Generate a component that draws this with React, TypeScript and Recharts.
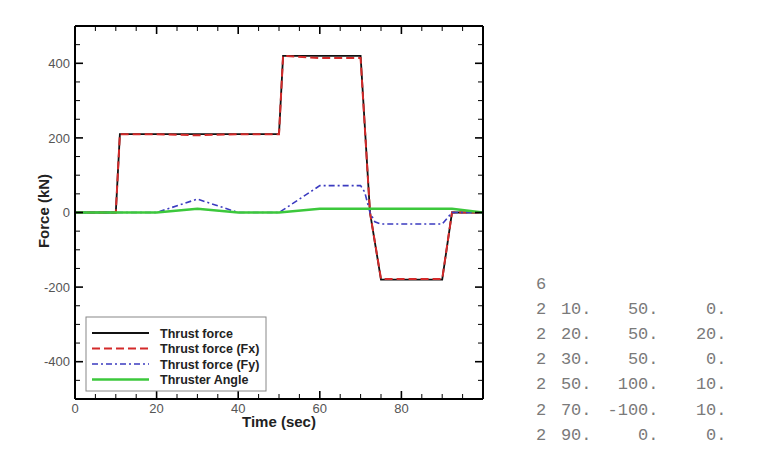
import React from 'react';
import { LineChart, Line, XAxis, YAxis } from 'recharts';

// time (sec) / value pairs
const thrustTime = [0, 10, 11, 50, 51, 70, 72.3, 75, 90, 92.4, 100];
const thrustForce = [0, 0, 210, 210, 420, 420, 0, -180, -180, 0, 0];

const fxTime = [0, 10, 11, 20, 30, 40, 50, 51, 60, 70, 72.3, 75, 90, 92.4, 100];
const fxForce = [0, 0, 210, 210, 207, 210, 210, 420, 414, 414, 0, -178, -178, 0, 0];

const fyTime = [0, 20, 30, 40, 50, 51, 60, 70, 71, 72.3, 73.5, 75, 90, 92.4, 100];
const fyForce = [0, 0, 36, 0, 0, 7, 72, 72, 55, 0, -25, -31, -31, 0, 0];

const angleTime = [0, 20, 30, 40, 50, 60, 90, 92.4, 100];
const angleValue = [0, 0, 10, 0, 0, 10, 10, 10, 0];

const xTicks = [0, 5, 10, 15, 20, 25, 30, 35, 40, 45, 50, 55, 60, 65, 70, 75, 80, 85, 90, 95, 100];
const xTickLabels = [0, 20, 40, 60, 80];
const yTicks = [-500, -450, -400, -350, -300, -250, -200, -150, -100, -50, 0, 50, 100, 150, 200, 250, 300, 350, 400, 450, 500];
const yTickLabels = [-400, -200, 0, 200, 400];

const tableCount = '6';
const tableRows = [
  ['2', '10.', '50.', '0.'],
  ['2', '20.', '50.', '20.'],
  ['2', '30.', '50.', '0.'],
  ['2', '50.', '100.', '10.'],
  ['2', '70.', '-100.', '10.'],
  ['2', '90.', '0.', '0.'],
];

const series = [
  { name: 'Thrust force', time: thrustTime, values: thrustForce, color: '#111', width: 1.8, dash: undefined },
  { name: 'Thrust force (Fx)', time: fxTime, values: fxForce, color: '#d42a2a', width: 2, dash: '8 4' },
  { name: 'Thrust force (Fy)', time: fyTime, values: fyForce, color: '#3b3bc0', width: 1.6, dash: '6 3 2 3' },
  { name: 'Thruster Angle', time: angleTime, values: angleValue, color: '#3cc83c', width: 2.5, dash: undefined },
];

const toPoints = (time: number[], values: number[]) => time.map((t, i) => ({ t, v: values[i] }));

const MAJOR = 8;
const MINOR = 5;
const tickFont = { fontFamily: '"Liberation Sans", Arial, sans-serif', fontSize: 13, fill: '#555' };

const BottomTick = (props: any) => {
  const { x, y, payload } = props;
  const major = payload.value % 20 === 0;
  return (
    <g>
      <line x1={x} y1={y} x2={x} y2={y - (major ? MAJOR : MINOR)} stroke="#000" strokeWidth={major ? 1.6 : 1} />
      {xTickLabels.includes(payload.value) && (
        <text x={x} y={y + 14} textAnchor="middle" {...tickFont}>{payload.value}</text>
      )}
    </g>
  );
};

const TopTick = (props: any) => {
  const { x, y, payload } = props;
  const major = payload.value % 20 === 0;
  return <line x1={x} y1={y} x2={x} y2={y + (major ? MAJOR : MINOR)} stroke="#000" strokeWidth={major ? 1.6 : 1} />;
};

const LeftTick = (props: any) => {
  const { x, y, payload } = props;
  const major = payload.value % 200 === 0;
  return (
    <g>
      <line x1={x} y1={y} x2={x + (major ? MAJOR : MINOR)} y2={y} stroke="#000" strokeWidth={major ? 1.6 : 1} />
      {yTickLabels.includes(payload.value) && (
        <text x={x - 5} y={y + 4.6} textAnchor="end" {...tickFont}>{payload.value}</text>
      )}
    </g>
  );
};

const RightTick = (props: any) => {
  const { x, y, payload } = props;
  const major = payload.value % 200 === 0;
  return <line x1={x} y1={y} x2={x - (major ? MAJOR : MINOR)} y2={y} stroke="#000" strokeWidth={major ? 1.6 : 1} />;
};

const frame = { stroke: '#000', strokeWidth: 2 };

export default function App() {
  return (
    <div style={{ position: 'absolute', left: 0, top: 0, width: 769, height: 457, background: '#fff' }}>
      <LineChart width={769} height={457} margin={{ top: 25, right: 285, bottom: 28, left: 0 }}>
        <XAxis
          dataKey="t"
          type="number"
          domain={[0, 100]}
          ticks={xTicks}
          interval={0}
          height={30}
          tickSize={0}
          tickMargin={0}
          tickLine={false}
          axisLine={frame}
          tick={<BottomTick />}
          allowDataOverflow
        />
        <XAxis
          xAxisId="top"
          orientation="top"
          dataKey="t"
          type="number"
          domain={[0, 100]}
          ticks={xTicks}
          interval={0}
          height={1}
          tickSize={0}
          tickMargin={0}
          tickLine={false}
          axisLine={frame}
          tick={<TopTick />}
          allowDataOverflow
        />
        <YAxis
          type="number"
          domain={[-500, 500]}
          ticks={yTicks}
          interval={0}
          width={75}
          tickSize={0}
          tickMargin={0}
          tickLine={false}
          axisLine={frame}
          tick={<LeftTick />}
          allowDataOverflow
        />
        <YAxis
          yAxisId="right"
          orientation="right"
          type="number"
          domain={[-500, 500]}
          ticks={yTicks}
          interval={0}
          width={1}
          tickSize={0}
          tickMargin={0}
          tickLine={false}
          axisLine={frame}
          tick={<RightTick />}
          allowDataOverflow
        />
        {series.map((s) => (
          <Line
            key={s.name}
            data={toPoints(s.time, s.values)}
            dataKey="v"
            type="linear"
            stroke={s.color}
            strokeWidth={s.width}
            strokeDasharray={s.dash}
            dot={false}
            activeDot={false}
            isAnimationActive={false}
          />
        ))}
        {/* invisible copy so the top and right frame axes get a scale */}
        <Line
          xAxisId="top"
          yAxisId="right"
          data={toPoints(thrustTime, thrustForce)}
          dataKey="v"
          stroke="none"
          dot={false}
          activeDot={false}
          legendType="none"
          isAnimationActive={false}
        />
      </LineChart>

      <svg width={769} height={457} style={{ position: 'absolute', left: 0, top: 0, pointerEvents: 'none' }}>
        <text
          transform="translate(48.5,211) rotate(-90)"
          textAnchor="middle"
          fontFamily='"Liberation Sans", Arial, sans-serif'
          fontWeight="bold"
          fontSize={15}
          fill="#222"
        >
          Force (kN)
        </text>
        <text
          x={279}
          y={427}
          textAnchor="middle"
          fontFamily='"Liberation Sans", Arial, sans-serif'
          fontWeight="bold"
          fontSize={15}
          fill="#222"
        >
          Time (sec)
        </text>

        <g transform="translate(86,317)">
          <rect x={0} y={0} width={180} height={74} fill="#fff" stroke="#888" strokeWidth={1} />
          {series.map((s, i) => {
            const cy = 16 + i * 15.5;
            return (
              <g key={s.name}>
                <line x1={6} y1={cy} x2={63} y2={cy} stroke={s.color} strokeWidth={s.width} strokeDasharray={s.dash} />
                <text
                  x={74}
                  y={cy + 4.5}
                  fontFamily='"Liberation Sans", Arial, sans-serif'
                  fontWeight="bold"
                  fontSize={12.5}
                  fill="#222"
                >
                  {s.name}
                </text>
              </g>
            );
          })}
        </g>

        <g fontFamily='"Liberation Mono", "DejaVu Sans Mono", monospace' fontSize={17} fill="#7a7a7a">
          <text x={536} y={284} dominantBaseline="central">{tableCount}</text>
          {tableRows.map((row, i) => {
            const cy = 284 + (i + 1) * 25.2;
            return (
              <g key={i}>
                <text x={536} y={cy} dominantBaseline="central">{row[0]}</text>
                <text x={591.5} y={cy} textAnchor="end" dominantBaseline="central">{row[1]}</text>
                <text x={658.5} y={cy} textAnchor="end" dominantBaseline="central">{row[2]}</text>
                <text x={726.5} y={cy} textAnchor="end" dominantBaseline="central">{row[3]}</text>
              </g>
            );
          })}
        </g>
      </svg>
    </div>
  );
}
